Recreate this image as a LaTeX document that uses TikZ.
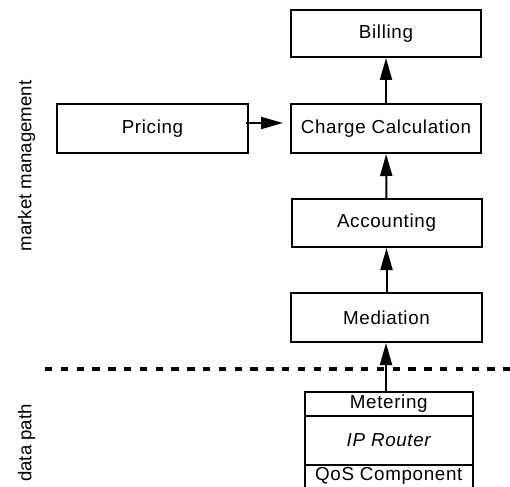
\documentclass[tikz,border=0pt]{standalone}
\usepackage{fontspec}
\usetikzlibrary{arrows.meta,positioning}
\newfontfamily\boxfont{Liberation Sans}[LetterSpace=3.5]
\newfontfamily\sidefont{Liberation Sans}
\begin{document}
\begin{tikzpicture}[x=1pt,y=-1pt,
  box/.style={draw,line width=2pt,rectangle,inner sep=0pt,font=\boxfont\fontsize{18.8pt}{22pt}\selectfont},
  side/.style={rotate=90,inner sep=0pt,font=\sidefont\fontsize{18.6pt}{22pt}\selectfont},
  arr/.style={line width=2pt,-{Triangle[length=22pt,width=12pt]}},
  sep/.style={line width=4.5pt,dash pattern=on 7.3pt off 8.5pt}]
\useasboundingbox (0,0) rectangle (510,486);
\clip (0,0) rectangle (510,486);
% boxes
\node[box,minimum width=190pt,minimum height=47pt] (billing) at (386,33.5) {Billing};
\node[box,minimum width=191pt,minimum height=49pt] (pricing) at (152.5,128.5) {Pricing};
\node[box,minimum width=190pt,minimum height=49pt] (charge) at (386,128.5) {Charge Calculation};
\node[box,minimum width=190pt,minimum height=48pt] (accounting) at (386.5,223) {Accounting};
\node[box,minimum width=191pt,minimum height=49pt] (mediation) at (386.5,317.5) {Mediation};
% router stack
\node[box,minimum width=167.5pt,minimum height=24pt] (metering) at (388.75,404) {Metering};
\node[box,minimum width=167.5pt,minimum height=49pt] (router) at (388.75,440.5) {\itshape IP Router};
\node[box,minimum width=167.5pt,minimum height=34pt,text depth=0pt] (qos) at (388.75,482) {};
\node[font=\boxfont\fontsize{18.8pt}{22pt}\selectfont,inner sep=0pt] (qostext) at (388.75,475.5) {QoS Component};
% side labels
\node[side] (mm) at (26.5,166) {market management};
\node[side] (dp) at (26.5,443) {data path};
% separator
\coordinate (sepL) at (45,369);
\coordinate (sepR) at (512,369);
\draw[sep] (sepL) -- (sepR);
% connectors
\draw[arr] (charge) -- (billing);
\draw[arr] (accounting) -- (charge);
\draw[arr] (mediation) -- (accounting);
\coordinate (mfrom) at (386,392);
\draw[arr] (mfrom) -- (mfrom |- mediation.south);
\coordinate (pfrom) at (246,123);
\coordinate (pto) at (283,123);
\draw[arr] (pfrom) -- (pto);
\end{tikzpicture}
\end{document}
